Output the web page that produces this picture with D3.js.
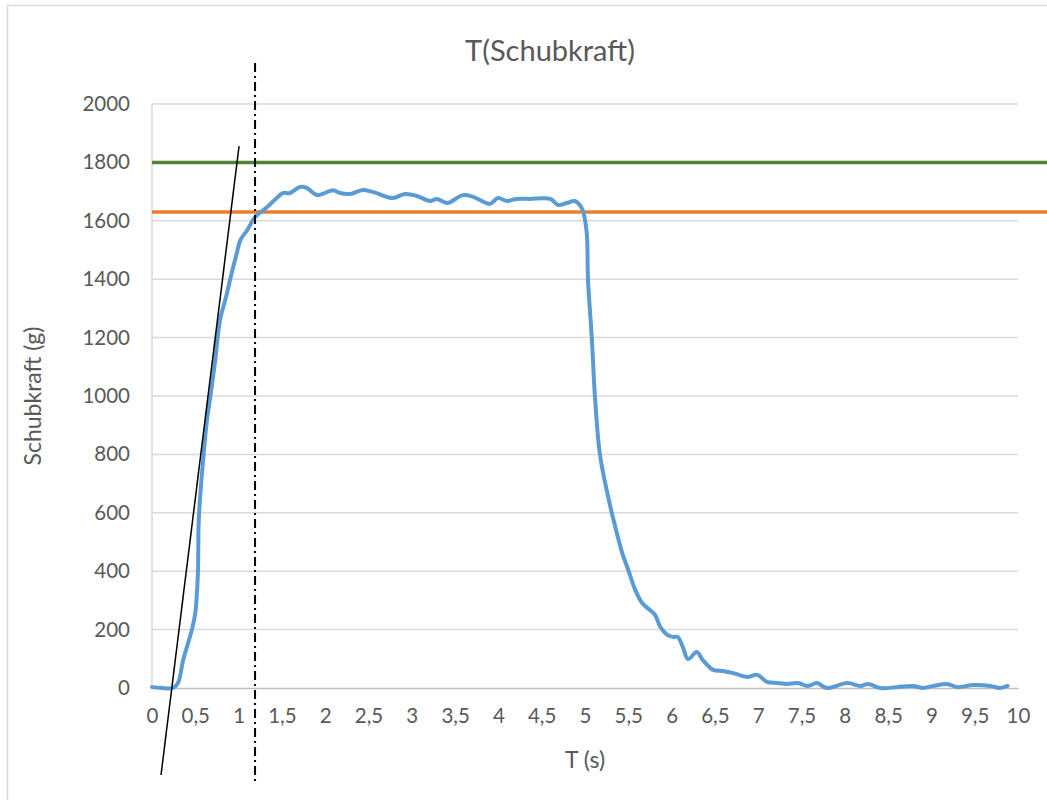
<!DOCTYPE html>
<html>
<head>
<meta charset="utf-8">
<script src="https://cdn.jsdelivr.net/npm/d3@7/dist/d3.min.js"></script>
<style>
  html, body { margin: 0; padding: 0; background: #fff; }
  svg { display: block; }
  text { font-family: Lato, "Open Sans", sans-serif; fill: #595959; }
</style>
</head>
<body>
<svg id="chart" width="1047" height="800"></svg>
<script>
// Measured thrust over time
const timeS = [0, 0.115, 0.24, 0.30, 0.36, 0.46, 0.50, 0.53, 0.54, 0.59, 0.635, 0.68, 0.73, 0.785,
  0.855, 0.92, 0.98, 1.02, 1.10, 1.19, 1.33, 1.44, 1.51, 1.59, 1.71, 1.79, 1.91, 2.09, 2.17,
  2.29, 2.42, 2.55, 2.78, 2.92, 3.06, 3.21, 3.29, 3.41, 3.59, 3.71, 3.90, 3.995, 4.10, 4.21,
  4.36, 4.60, 4.69, 4.79, 4.88, 4.94, 4.98, 5.02, 5.035, 5.08, 5.115, 5.17, 5.25, 5.35, 5.43,
  5.50, 5.58, 5.66, 5.75, 5.81, 5.87, 5.95, 6.02, 6.07, 6.13, 6.19, 6.29, 6.36, 6.48, 6.59,
  6.71, 6.87, 6.99, 7.10, 7.22, 7.33, 7.46, 7.57, 7.68, 7.79, 8.03, 8.18, 8.27, 8.41, 8.60,
  8.79, 8.90, 9.02, 9.18, 9.30, 9.48, 9.68, 9.79, 9.88];
const thrustG = [3, 0, 0, 17, 96, 199, 257, 394, 575, 781, 918, 1010, 1123, 1260,
  1339, 1421, 1490, 1534, 1568, 1613, 1647, 1678, 1695, 1695, 1716, 1712, 1688, 1705, 1695,
  1692, 1705, 1699, 1678, 1692, 1685, 1668, 1675, 1661, 1688, 1682, 1658, 1678, 1668, 1675,
  1675, 1675, 1654, 1661, 1668, 1654, 1630, 1558, 1397, 1192, 997, 805, 678, 551, 462,
  404, 336, 291, 267, 250, 209, 182, 175, 175, 140, 99, 123, 96, 62, 58,
  51, 38, 45, 21, 17, 14, 17, 7, 17, 0, 17, 7, 14, 0, 3,
  7, 0, 7, 14, 3, 10, 7, 0, 7];

// Reference levels (g)
const maxLevel = 1800;
const plateauLevel = 1630;

// Rise tangent (two points) and marker time
const tangentT = [0.104, 1.005];
const tangentV = [-298, 1856];
const markerT = 1.19;
const markerV = [2140, -332];

// Axis ticks
const xTicks = d3.range(0, 10.001, 0.5);
const yTicks = d3.range(0, 2001, 200);
const fmtX = v => String(+v.toFixed(1)).replace(".", ",");
const fmtY = d3.format("d");

const svg = d3.select("#chart");

// chart frame
svg.append("rect")
  .attr("x", 7.5).attr("y", 5.5).attr("width", 1100).attr("height", 900)
  .attr("fill", "#fff").attr("stroke", "#D9D9D9").attr("stroke-width", 1.5);

const x = d3.scaleLinear().domain([0, 10]).range([152, 1018]);
const y = d3.scaleLinear().domain([0, 2000]).range([688, 104]);

// horizontal gridlines
svg.append("g")
  .selectAll("line").data(yTicks.filter(d => d > 0)).join("line")
  .attr("x1", x(0)).attr("x2", x(10))
  .attr("y1", d => y(d)).attr("y2", d => y(d))
  .attr("stroke", "#D9D9D9").attr("stroke-width", 1.5);

// left edge of plot area
svg.append("line")
  .attr("x1", x(0)).attr("x2", x(0)).attr("y1", y(2000)).attr("y2", y(0))
  .attr("stroke", "#D9D9D9").attr("stroke-width", 1.5);

// y axis labels
const yAxis = d3.axisLeft(y).tickValues(yTicks).tickFormat(fmtY).tickSize(0).tickPadding(22);
const gy = svg.append("g").attr("transform", `translate(${x(0)},0)`).call(yAxis);
gy.select(".domain").remove();
gy.selectAll("text").attr("font-size", 20.5).attr("fill", "#595959")
  .style("font-family", "Lato, 'Open Sans', sans-serif");

// x axis
const xAxis = d3.axisBottom(x).tickValues(xTicks).tickFormat(fmtX).tickSize(0).tickPadding(20);
const gx = svg.append("g").attr("transform", `translate(0,${y(0)})`).call(xAxis);
gx.select(".domain").attr("stroke", "#BFBFBF").attr("stroke-width", 1.5);
gx.selectAll("text").attr("font-size", 20.5).attr("fill", "#595959")
  .style("font-family", "Lato, 'Open Sans', sans-serif");

// reference levels
[[maxLevel, "#548235"], [plateauLevel, "#ED7D31"]].forEach(([v, c]) => {
  svg.append("line")
    .attr("x1", x(0)).attr("x2", 1047)
    .attr("y1", y(v)).attr("y2", y(v))
    .attr("stroke", c).attr("stroke-width", 3.5);
});

// thrust curve
const pts = timeS.map((t, i) => [t, thrustG[i]]);
svg.append("path")
  .datum(pts)
  .attr("fill", "none")
  .attr("stroke", "#5B9BD5")
  .attr("stroke-width", 4)
  .attr("stroke-linejoin", "round")
  .attr("stroke-linecap", "round")
  .attr("d", d3.line().x(d => x(d[0])).y(d => y(d[1])).curve(d3.curveCatmullRom.alpha(0.5)));

// rise tangent
svg.append("line")
  .attr("x1", x(tangentT[0])).attr("y1", y(tangentV[0]))
  .attr("x2", x(tangentT[1])).attr("y2", y(tangentV[1]))
  .attr("stroke", "#000").attr("stroke-width", 1.5);

// dash-dot marker
svg.append("line")
  .attr("x1", x(markerT)).attr("x2", x(markerT))
  .attr("y1", y(markerV[0])).attr("y2", y(markerV[1]))
  .attr("stroke", "#000").attr("stroke-width", 2)
  .attr("stroke-dasharray", "9,4,2,4");

// titles
svg.append("text")
  .attr("x", 550).attr("y", 61).attr("text-anchor", "middle")
  .attr("font-size", 29).text("T(Schubkraft)");

svg.append("text")
  .attr("x", 585).attr("y", 768).attr("text-anchor", "middle")
  .attr("font-size", 23).text("T (s)");

svg.append("text")
  .attr("transform", "translate(41,396) rotate(-90)")
  .attr("text-anchor", "middle")
  .attr("font-size", 23).text("Schubkraft (g)");
</script>
</body>
</html>
